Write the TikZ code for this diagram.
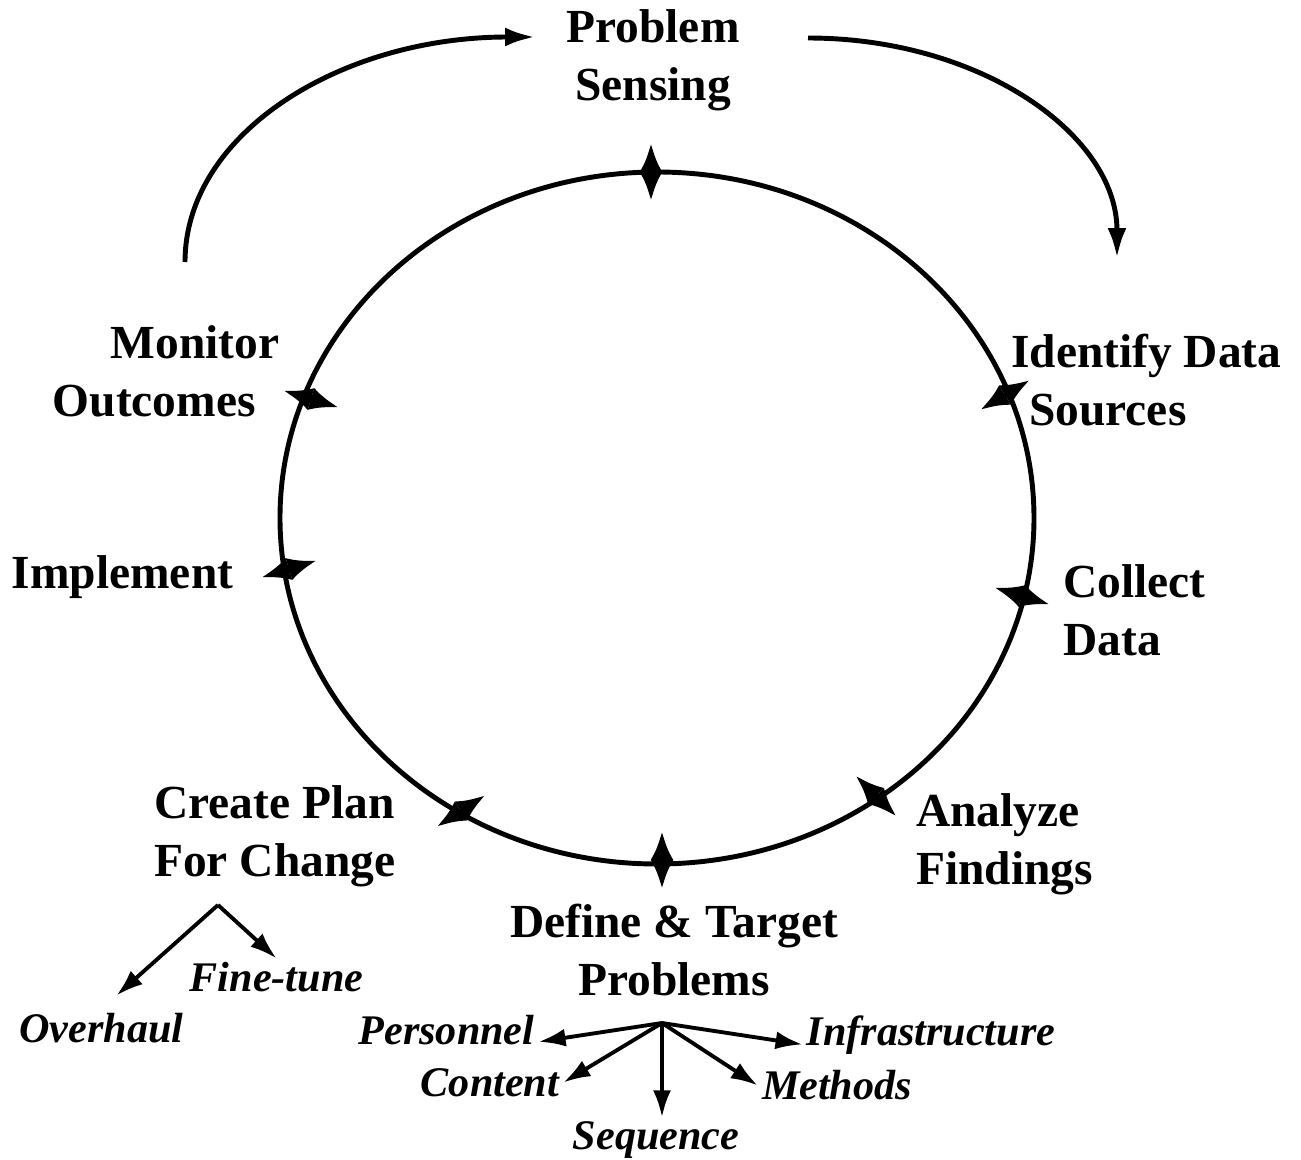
\documentclass[tikz,border=0pt]{standalone}
\usepackage{fontspec}
\setmainfont{Liberation Serif}
\usetikzlibrary{arrows.meta}

\begin{document}
\begin{tikzpicture}

		\useasboundingbox (0,0) rectangle (13.01,11.59);

		\tikzset{stage/.style = {inner sep=1pt,font=\fontsize{13.5}{16.5}\selectfont\bfseries}}
		\tikzset{item/.style = {inner sep=1pt,font=\fontsize{12}{14}\selectfont\bfseries\itshape}}
		\tikzset{tick/.style = {line width=1.4pt,{Latex[length=0.29cm,width=0.23cm]}-{Latex[length=0.29cm,width=0.23cm]}}}
		\tikzset{edge/.style = {line width=1.1pt,-{Latex[length=0.27cm,width=0.18cm]}}}
		\tikzset{loop/.style = {line width=1.4pt,-{Latex[length=0.3cm,width=0.19cm]}}}

		% the cycle
		\draw[line width=1.4pt] (6.57,6.41) ellipse (3.77 and 3.46);

		\draw[tick] (6.51,9.87) ++(90:0.29) -- ++(270:0.58);
		\draw[tick] (10.05,7.64) ++(31:0.29) -- ++(211:0.58);
		\draw[tick] (10.22,5.63) ++(-17:0.29) -- ++(163:0.58);
		\draw[tick] (8.76,3.63) ++(-45:0.29) -- ++(135:0.58);
		\draw[tick] (6.62,2.99) ++(90:0.29) -- ++(270:0.58);
		\draw[tick] (4.61,3.48) ++(33:0.29) -- ++(213:0.58);
		\draw[tick] (2.89,5.90) ++(17:0.29) -- ++(197:0.58);
		\draw[tick] (3.11,7.60) ++(-17:0.29) -- ++(163:0.58);

		% stages
		\node[stage] (ps) at (6.53,10.99) [align=center] {Problem\\Sensing};
		\node[stage] (ids) at (10.07,7.785) [anchor=west,align=left] {Identify Data\\\hspace*{0.18cm}Sources};
		\node[stage] (cd) at (10.59,5.49) [anchor=west,align=left] {Collect\\Data};
		\node[stage] (af) at (9.12,3.15) [anchor=west,align=left] {Analyze\\Findings};
		\node[stage] (dtp) at (6.74,2.09) [align=center] {Define \& Target\\Problems};
		\node[stage] (cpc) at (1.50,3.23) [anchor=west,align=left] {Create Plan\\For Change};
		\node[stage] (imp) at (1.225,5.82) {Implement};
		\node[stage] (mo) at (0.485,7.875) [anchor=west,align=left] {\hspace*{0.58cm}Monitor\\Outcomes};

		% loop over the top
		\coordinate (moup) at (1.85,8.97);
		\coordinate (psin) at (5.35,11.22);
		\coordinate (psout) at (8.08,11.21);
		\coordinate (idsin) at (11.17,9.01);
		\draw[loop] (moup) .. controls (1.85,10.25) and (3.40,11.22) .. (psin);
		\draw[loop] (psout) .. controls (9.81,11.21) and (11.17,10.24) .. (idsin);

		% plan branches
		\coordinate (cpfork) at (2.18,2.54);
		\node[item] (ovh) at (1.015,1.31) {Overhaul};
		\node[item] (fine) at (2.765,1.815) {Fine-tune};
		\draw[edge, shorten >=0.2cm] (cpfork) -- (ovh.north);
		\draw[edge] (cpfork) -- (fine.north);

		% problem branches
		\coordinate (dtfork) at (6.62,1.36);
		\node[item] (pers) at (4.465,1.285) {Personnel};
		\node[item] (cont) at (4.90,0.765) {Content};
		\node[item] (seq) at (6.56,0.19) {Sequence};
		\node[item] (meth) at (8.37,0.735) {Methods};
		\node[item] (infra) at (9.31,1.235) {Infrastructure};
		\draw[edge] (dtfork) -- (pers.-7);
		\draw[edge] (dtfork) -- (cont.east);
		\draw[edge] (dtfork) -- (dtfork |- seq.north);
		\draw[edge] (dtfork) -- (meth.west);
		\draw[edge] (dtfork) -- (infra.184);

\end{tikzpicture}
\end{document}
